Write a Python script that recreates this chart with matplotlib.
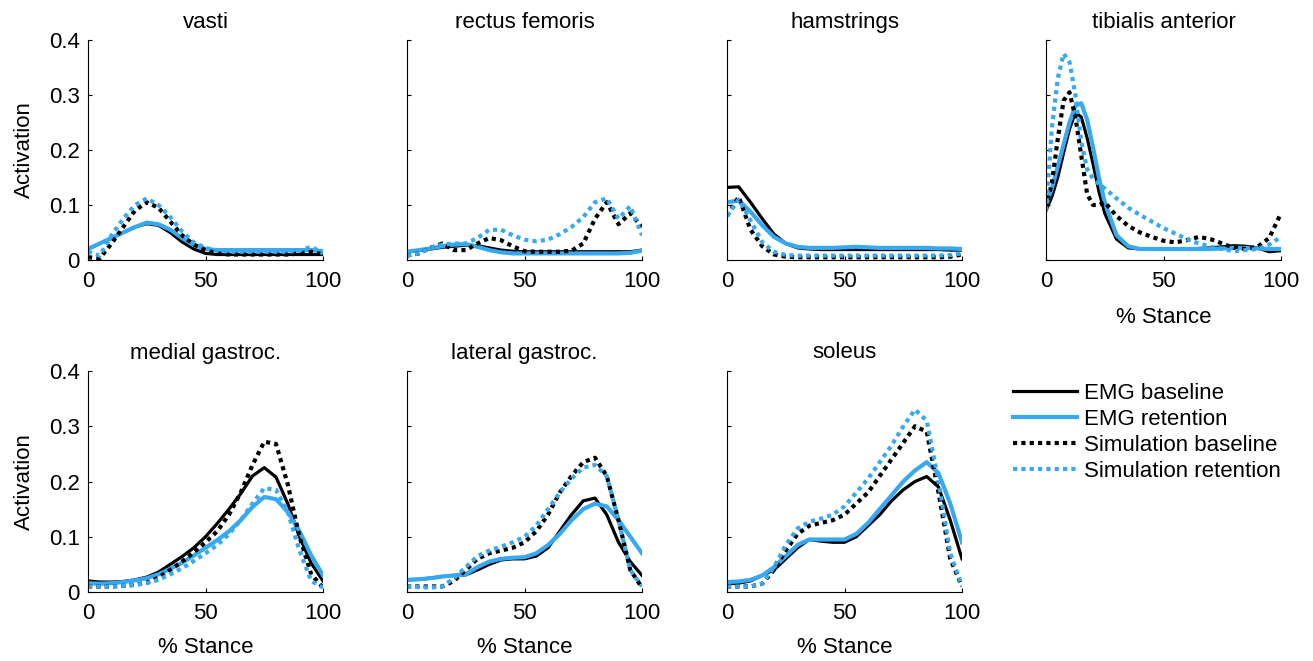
import numpy as np
import matplotlib
matplotlib.use('Agg')
import matplotlib.pyplot as plt

plt.rcParams['font.family'] = ['Liberation Sans', 'DejaVu Sans']

# stance percentage grids
x5 = [0, 5, 10, 15, 20, 25, 30, 35, 40, 45, 50, 55, 60, 65, 70, 75, 80, 85, 90, 95, 100]
x_ta = [0, 2.5, 5, 7.5, 10, 12.5, 15, 17.5, 20, 22.5, 25, 30, 35, 40, 45, 50,
        55, 60, 65, 70, 75, 80, 85, 90, 95, 100]

muscles = ['vasti', 'rectus femoris', 'hamstrings', 'tibialis anterior',
           'medial gastroc.', 'lateral gastroc.', 'soleus']
labels = ['EMG baseline', 'EMG retention', 'Simulation baseline', 'Simulation retention']

# vasti
vas_emg_b = [0.020, 0.030, 0.040, 0.050, 0.060, 0.066, 0.063, 0.050, 0.033, 0.020, 0.012,
             0.010, 0.010, 0.010, 0.010, 0.010, 0.010, 0.010, 0.010, 0.010, 0.010]
vas_emg_r = [0.020, 0.030, 0.040, 0.050, 0.060, 0.068, 0.065, 0.055, 0.040, 0.027, 0.020,
             0.018, 0.018, 0.018, 0.018, 0.018, 0.018, 0.018, 0.018, 0.018, 0.016]
vas_sim_b = [0.005, 0.003, 0.030, 0.060, 0.090, 0.105, 0.095, 0.070, 0.045, 0.028, 0.018,
             0.012, 0.010, 0.010, 0.010, 0.010, 0.010, 0.010, 0.012, 0.015, 0.010]
vas_sim_r = [0.015, 0.008, 0.045, 0.075, 0.100, 0.112, 0.100, 0.078, 0.052, 0.032, 0.022,
             0.017, 0.015, 0.015, 0.015, 0.015, 0.015, 0.015, 0.017, 0.024, 0.012]

# rectus femoris
rf_emg_b = [0.015, 0.017, 0.020, 0.023, 0.025, 0.027, 0.026, 0.022, 0.018, 0.016, 0.015,
            0.015, 0.015, 0.015, 0.015, 0.015, 0.015, 0.015, 0.015, 0.015, 0.018]
rf_emg_r = [0.015, 0.018, 0.021, 0.025, 0.028, 0.029, 0.024, 0.018, 0.014, 0.012, 0.012,
            0.012, 0.012, 0.012, 0.012, 0.012, 0.012, 0.012, 0.012, 0.013, 0.017]
rf_sim_b = [0.008, 0.012, 0.022, 0.030, 0.018, 0.018, 0.030, 0.040, 0.036, 0.025, 0.016,
            0.015, 0.015, 0.015, 0.017, 0.030, 0.075, 0.105, 0.065, 0.085, 0.060]
rf_sim_r = [0.008, 0.012, 0.022, 0.028, 0.030, 0.030, 0.040, 0.055, 0.055, 0.045, 0.037,
            0.034, 0.037, 0.047, 0.060, 0.078, 0.105, 0.112, 0.075, 0.098, 0.045]

# hamstrings
ham_emg_b = [0.132, 0.133, 0.105, 0.075, 0.047, 0.030, 0.022, 0.020, 0.019, 0.019, 0.019,
             0.019, 0.019, 0.019, 0.019, 0.019, 0.019, 0.019, 0.019, 0.018, 0.018]
ham_emg_r = [0.105, 0.108, 0.088, 0.063, 0.042, 0.030, 0.024, 0.022, 0.022, 0.022, 0.023,
             0.024, 0.023, 0.022, 0.022, 0.022, 0.022, 0.022, 0.021, 0.021, 0.020]
ham_sim_b = [0.080, 0.115, 0.055, 0.025, 0.010, 0.006, 0.005, 0.005, 0.005, 0.005, 0.005,
             0.005, 0.005, 0.005, 0.005, 0.005, 0.005, 0.005, 0.005, 0.006, 0.010]
ham_sim_r = [0.080, 0.110, 0.072, 0.032, 0.015, 0.009, 0.008, 0.008, 0.008, 0.008, 0.008,
             0.008, 0.008, 0.008, 0.008, 0.008, 0.008, 0.008, 0.008, 0.009, 0.012]

# tibialis anterior
ta_emg_b = [0.090, 0.115, 0.150, 0.195, 0.238, 0.268, 0.260, 0.222, 0.175, 0.125, 0.085,
            0.038, 0.022, 0.020, 0.020, 0.020, 0.020, 0.020, 0.021, 0.022, 0.024, 0.026,
            0.025, 0.022, 0.015, 0.017]
ta_emg_r = [0.100, 0.130, 0.170, 0.210, 0.250, 0.280, 0.285, 0.255, 0.205, 0.150, 0.105,
            0.045, 0.025, 0.020, 0.020, 0.020, 0.020, 0.020, 0.020, 0.020, 0.021, 0.022,
            0.022, 0.021, 0.020, 0.020]
ta_sim_b = [0.095, 0.140, 0.220, 0.290, 0.305, 0.260, 0.190, 0.120, 0.100, 0.100, 0.105,
            0.080, 0.062, 0.050, 0.042, 0.035, 0.032, 0.036, 0.042, 0.038, 0.030, 0.022,
            0.020, 0.024, 0.040, 0.085]
ta_sim_r = [0.090, 0.240, 0.330, 0.375, 0.360, 0.300, 0.215, 0.165, 0.148, 0.138, 0.130,
            0.112, 0.095, 0.082, 0.070, 0.058, 0.048, 0.038, 0.030, 0.024, 0.020, 0.016,
            0.018, 0.020, 0.028, 0.042]

# medial gastrocnemius
mg_emg_b = [0.020, 0.018, 0.018, 0.019, 0.022, 0.027, 0.036, 0.050, 0.064, 0.080, 0.100,
            0.124, 0.150, 0.178, 0.210, 0.225, 0.208, 0.160, 0.100, 0.052, 0.020]
mg_emg_r = [0.016, 0.015, 0.016, 0.018, 0.021, 0.025, 0.032, 0.042, 0.053, 0.066, 0.080,
            0.094, 0.110, 0.130, 0.154, 0.172, 0.168, 0.145, 0.110, 0.066, 0.030]
mg_sim_b = [0.010, 0.010, 0.010, 0.011, 0.013, 0.017, 0.026, 0.040, 0.055, 0.072, 0.090,
            0.110, 0.140, 0.180, 0.230, 0.272, 0.268, 0.195, 0.100, 0.032, 0.008]
mg_sim_r = [0.010, 0.010, 0.010, 0.011, 0.013, 0.016, 0.022, 0.032, 0.043, 0.056, 0.070,
            0.085, 0.105, 0.130, 0.160, 0.188, 0.185, 0.145, 0.075, 0.020, 0.008]

# lateral gastrocnemius
lg_emg_b = [0.022, 0.023, 0.025, 0.028, 0.030, 0.031, 0.040, 0.050, 0.058, 0.060, 0.060,
            0.065, 0.080, 0.110, 0.140, 0.165, 0.170, 0.140, 0.090, 0.055, 0.030]
lg_emg_r = [0.022, 0.023, 0.025, 0.028, 0.030, 0.032, 0.045, 0.055, 0.060, 0.062, 0.063,
            0.070, 0.085, 0.105, 0.130, 0.150, 0.160, 0.155, 0.130, 0.100, 0.070]
lg_sim_b = [0.010, 0.010, 0.010, 0.010, 0.020, 0.040, 0.060, 0.070, 0.075, 0.080, 0.090,
            0.110, 0.140, 0.180, 0.210, 0.235, 0.243, 0.210, 0.130, 0.040, 0.008]
lg_sim_r = [0.010, 0.009, 0.008, 0.010, 0.025, 0.045, 0.065, 0.075, 0.082, 0.090, 0.100,
            0.120, 0.150, 0.180, 0.205, 0.225, 0.230, 0.210, 0.130, 0.040, 0.010]

# soleus
sol_emg_b = [0.015, 0.016, 0.020, 0.030, 0.040, 0.060, 0.080, 0.095, 0.092, 0.090, 0.090,
             0.100, 0.120, 0.140, 0.165, 0.185, 0.200, 0.209, 0.190, 0.130, 0.060]
sol_emg_r = [0.018, 0.019, 0.022, 0.030, 0.045, 0.065, 0.085, 0.095, 0.095, 0.095, 0.095,
             0.105, 0.125, 0.150, 0.175, 0.200, 0.220, 0.235, 0.215, 0.160, 0.090]
sol_sim_b = [0.010, 0.010, 0.010, 0.015, 0.040, 0.075, 0.105, 0.120, 0.125, 0.130, 0.140,
             0.160, 0.180, 0.210, 0.240, 0.270, 0.300, 0.290, 0.180, 0.060, 0.010]
sol_sim_r = [0.010, 0.010, 0.010, 0.015, 0.045, 0.085, 0.115, 0.127, 0.133, 0.140, 0.155,
             0.180, 0.205, 0.235, 0.265, 0.300, 0.330, 0.310, 0.200, 0.070, 0.010]

panels = [
    (x5, [vas_emg_b, vas_emg_r, vas_sim_b, vas_sim_r]),
    (x5, [rf_emg_b, rf_emg_r, rf_sim_b, rf_sim_r]),
    (x5, [ham_emg_b, ham_emg_r, ham_sim_b, ham_sim_r]),
    (x_ta, [ta_emg_b, ta_emg_r, ta_sim_b, ta_sim_r]),
    (x5, [mg_emg_b, mg_emg_r, mg_sim_b, mg_sim_r]),
    (x5, [lg_emg_b, lg_emg_r, lg_sim_b, lg_sim_r]),
    (x5, [sol_emg_b, sol_emg_r, sol_sim_b, sol_sim_r]),
]

blue = '#36A9F2'
styles = [
    dict(color='black', lw=2.3, ls='-'),
    dict(color=blue, lw=3.0, ls='-'),
    dict(color='black', lw=3.0, ls=(0, (1, 1))),
    dict(color=blue, lw=3.0, ls=(0, (1, 1))),
]

W, H = 1313, 661
fig = plt.figure(figsize=(W / 100, H / 100), dpi=100)

lefts = [88, 407, 727, 1046]
width = 235
rows = [(40, 260), (371, 592)]

handles = []
for i, (xs, curves) in enumerate(panels):
    r, c = divmod(i, 4)
    top, bot = rows[r]
    ax = fig.add_axes([lefts[c] / W, 1 - bot / H, width / W, (bot - top) / H])
    for ys, st in zip(curves, styles):
        h, = ax.plot(xs, ys, **st)
        if i == 0:
            handles.append(h)
    ax.set_xlim(0, 100)
    ax.set_ylim(0, 0.4)
    ax.set_xticks([0, 50, 100])
    ax.set_yticks([0, 0.1, 0.2, 0.3, 0.4])
    ax.set_yticklabels(['0', '0.1', '0.2', '0.3', '0.4'])
    for s in ['top', 'right']:
        ax.spines[s].set_visible(False)
    for s in ['left', 'bottom']:
        ax.spines[s].set_linewidth(0.8)
    ax.tick_params(direction='in', length=3, width=0.8, labelsize=16)
    ax.tick_params(axis='x', pad=8)
    ax.tick_params(axis='y', pad=6)
    ax.set_title(muscles[i], fontsize=16, pad=9)
    if c == 0:
        ax.set_ylabel('Activation', fontsize=16, labelpad=10)
    else:
        ax.set_yticklabels([])
    if r == 1:
        ax.set_xlabel('% Stance', fontsize=16, labelpad=9)
    elif c == 3:
        ax.set_xlabel('% Stance', fontsize=16, labelpad=11)

fig.legend(handles, labels, loc='upper left', bbox_to_anchor=(1004 / W, 1 - 374 / H),
           frameon=False, fontsize=16, handlelength=2.9, handletextpad=0.3,
           labelspacing=0.22, borderaxespad=0)

fig.savefig('out.png', dpi=100)
